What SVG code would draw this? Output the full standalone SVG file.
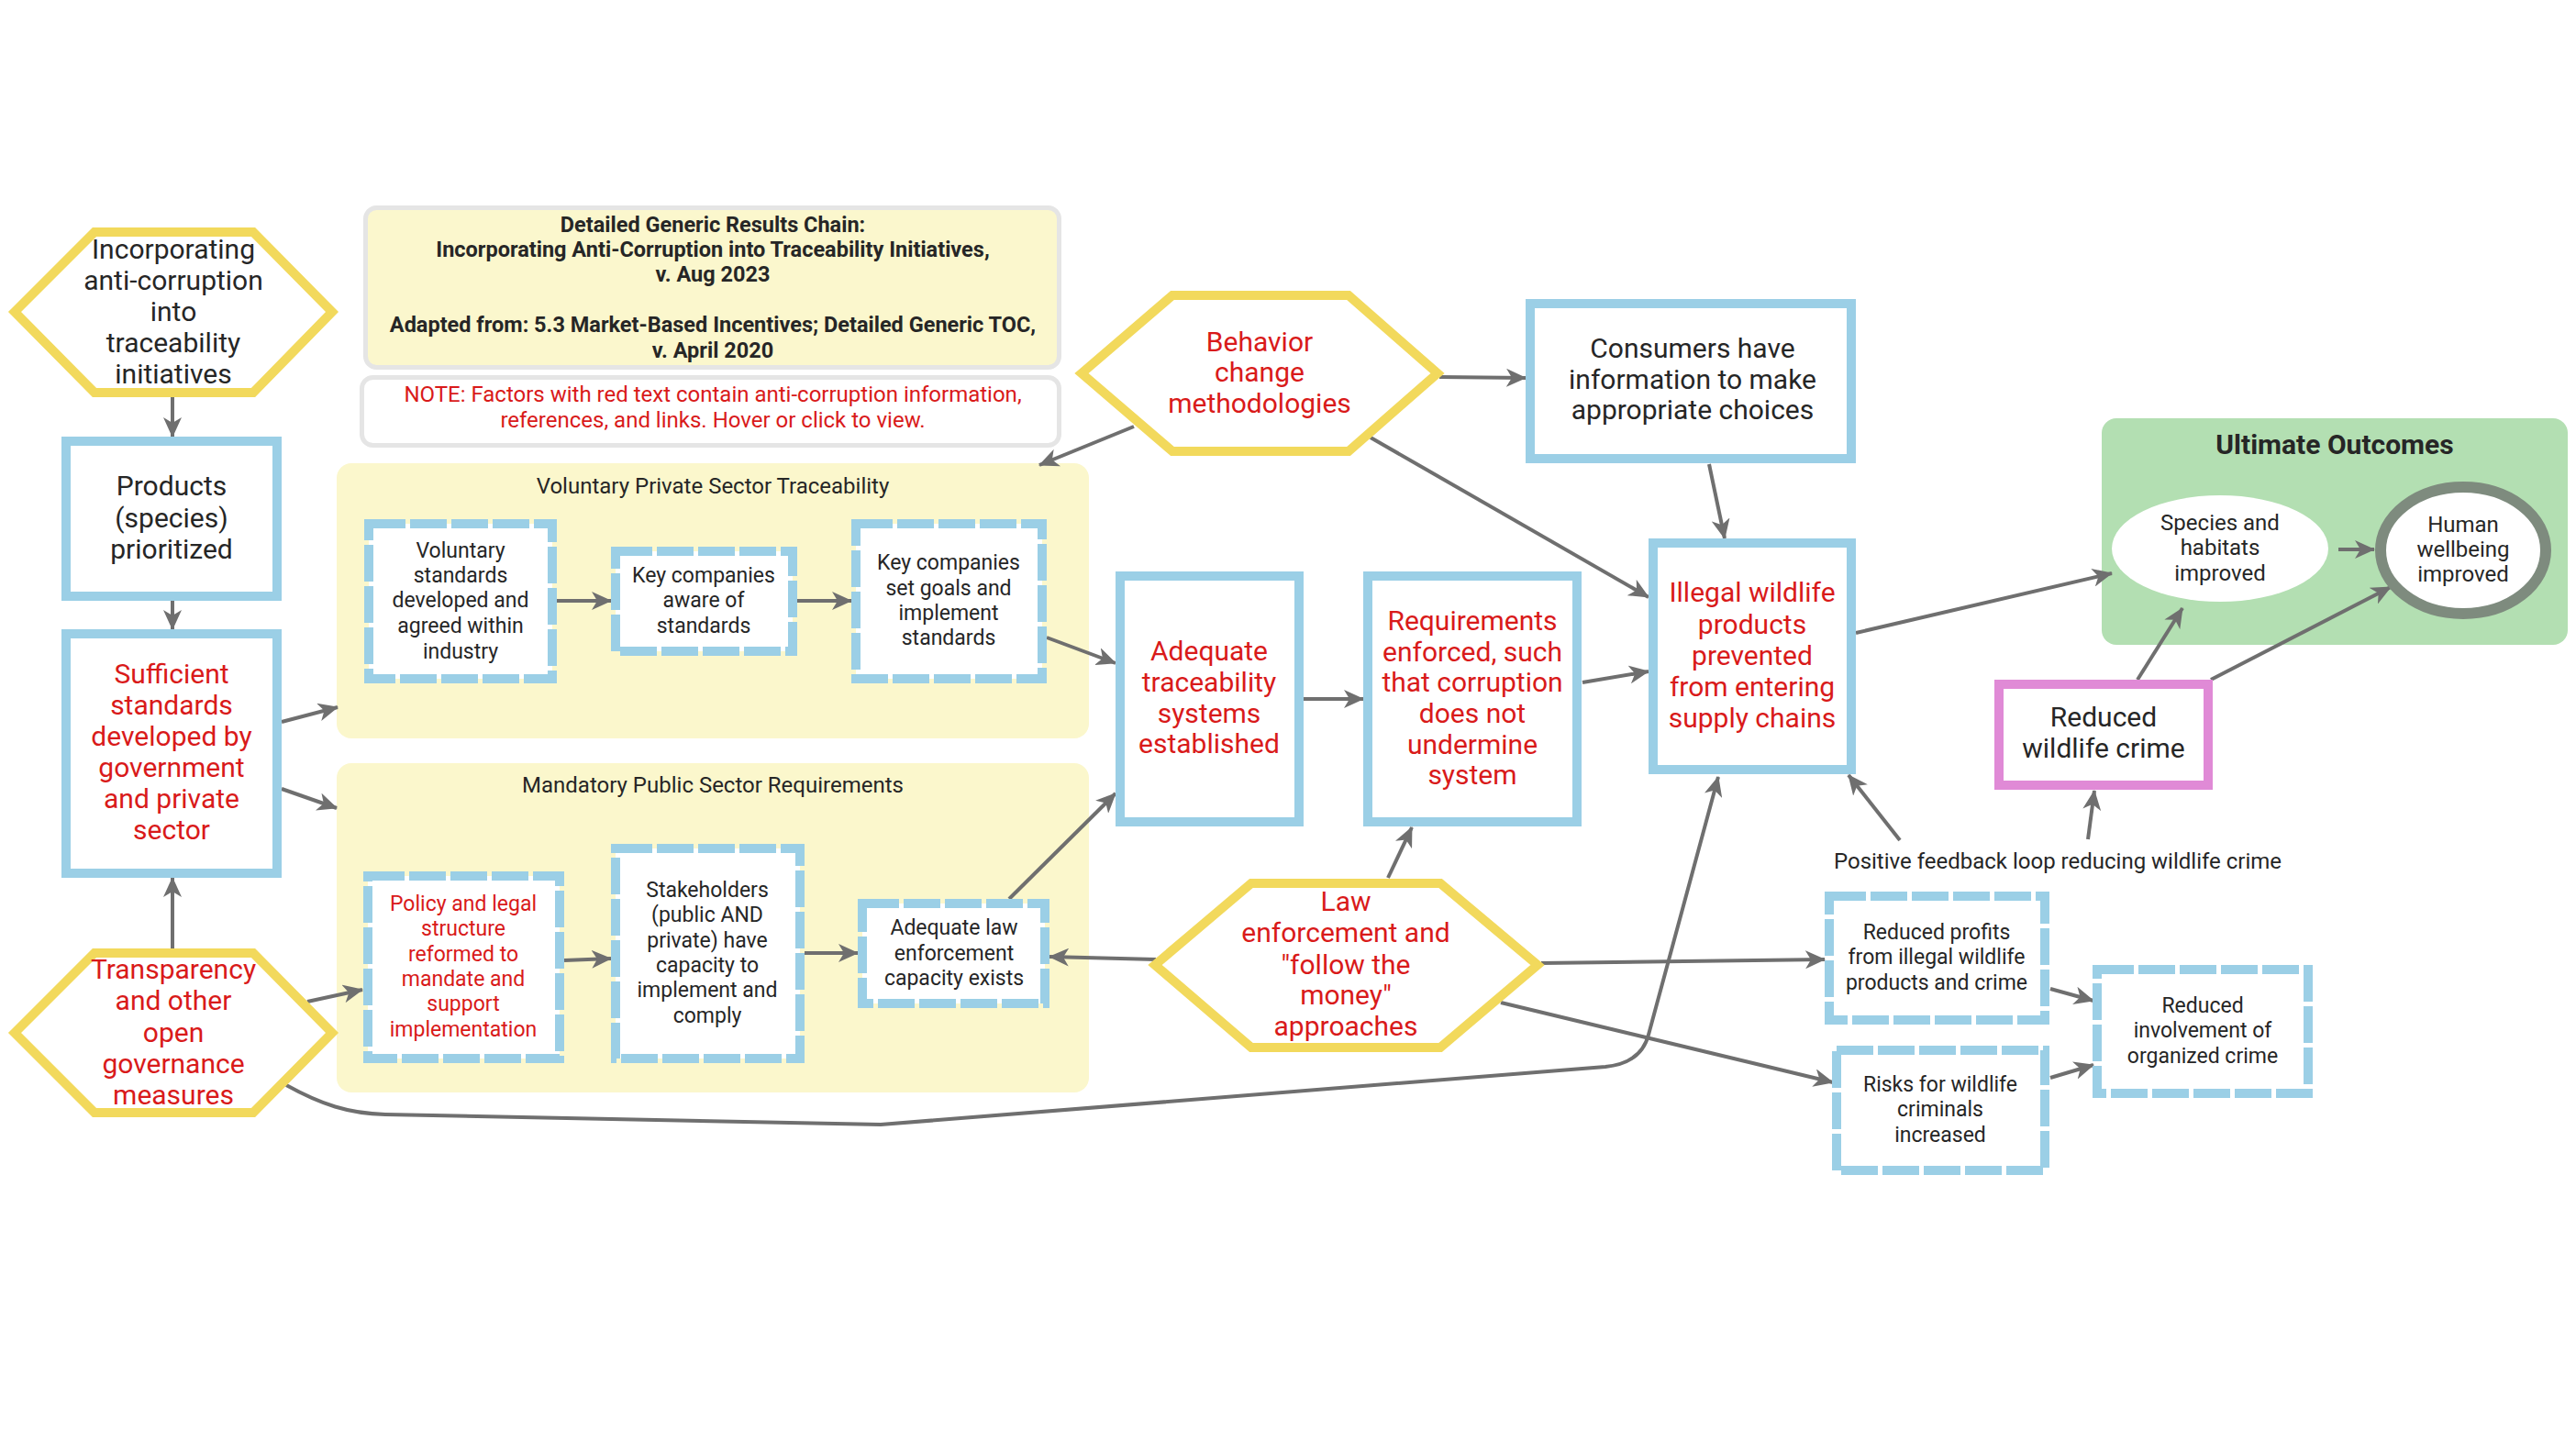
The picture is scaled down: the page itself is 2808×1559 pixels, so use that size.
<svg xmlns="http://www.w3.org/2000/svg" width="2808" height="1559" viewBox="0 0 2808 1559">
<defs>
<marker id="ah" markerUnits="userSpaceOnUse" markerWidth="22" markerHeight="20" refX="21" refY="10" orient="auto">
<path d="M0,0 L22,10 L0,20 L6,10 z" fill="#6f6f6f"/>
</marker>
<style>
text{font-family:Roboto,"Liberation Sans",sans-serif;text-anchor:middle;fill:#262626}
.big{font-size:30px}
.sm{font-size:23px}
.red{fill:#d91a1a}
.b{font-weight:bold}
.solid{fill:#fff;stroke:#9bcfe6;stroke-width:10}
.dash{fill:#fff;stroke:#9bcfe6;stroke-width:10;stroke-dasharray:40 5}
.hex{fill:#fff;stroke:#f2d95c;stroke-width:10;stroke-linejoin:miter}
.panel{fill:#fbf7cc}
.conn path,.conn line{stroke:#6f6f6f;stroke-width:4;fill:none;marker-end:url(#ah)}
</style>
</defs>
<rect x="0" y="0" width="2808" height="1559" fill="#fff"/>

<g id="title">
<rect x="398.5" y="226.5" width="756" height="174" rx="12" fill="#fbf7cd" stroke="#e5e5e5" stroke-width="5"/>
<text class="b" style="font-size:23.5px"><tspan x="777" y="253">Detailed Generic Results Chain:</tspan><tspan x="777" y="280">Incorporating Anti-Corruption into Traceability Initiatives,</tspan><tspan x="777" y="307">v. Aug 2023</tspan><tspan x="777" y="362">Adapted from: 5.3 Market-Based Incentives; Detailed Generic TOC,</tspan><tspan x="777" y="390">v. April 2020</tspan></text>
</g>
<g id="note">
<rect x="394.5" y="411.5" width="760" height="74" rx="12" fill="#fff" stroke="#e5e5e5" stroke-width="5"/>
<text class="red" style="font-size:24px"><tspan x="777" y="438">NOTE: Factors with red text contain anti-corruption information,</tspan><tspan x="777" y="466">references, and links. Hover or click to view.</tspan></text>
</g>

<g id="panel-voluntary">
<rect class="panel" x="367" y="505" width="820" height="300" rx="16"/>
<text style="font-size:24px" x="777" y="538">Voluntary Private Sector Traceability</text>
</g>
<g id="panel-mandatory">
<rect class="panel" x="367" y="832" width="820" height="359" rx="16"/>
<text style="font-size:24px" x="777" y="864">Mandatory Public Sector Requirements</text>
</g>
<g id="panel-ultimate">
<rect x="2291" y="456" width="508" height="247" rx="16" fill="#b3dfb2"/>
<text class="b" style="font-size:30px" x="2545" y="495">Ultimate Outcomes</text>
</g>

<g class="conn" id="connectors">
<line x1="188" y1="433" x2="188" y2="476"/>
<line x1="188" y1="655" x2="188" y2="686"/>
<line x1="188" y1="1034" x2="188" y2="957"/>
<line x1="307" y1="787" x2="368" y2="771"/>
<line x1="307" y1="860" x2="367" y2="881"/>
<line x1="335" y1="1092" x2="395" y2="1079"/>
<path d="M312,1183 C350,1204 380,1214 420,1215 L960,1226 L1750,1163 Q1789,1159 1797,1128 L1873,847"/>
<line x1="607" y1="655" x2="666" y2="655"/>
<line x1="869" y1="655" x2="928" y2="655"/>
<line x1="1141" y1="695" x2="1216" y2="723"/>
<line x1="615" y1="1047" x2="666" y2="1045"/>
<line x1="877" y1="1039" x2="935" y2="1039"/>
<line x1="1100" y1="980" x2="1216" y2="865"/>
<line x1="1260" y1="1046" x2="1144" y2="1043"/>
<line x1="1236" y1="465" x2="1133" y2="507"/>
<line x1="1569" y1="411" x2="1663" y2="412"/>
<line x1="1494" y1="477" x2="1797" y2="651"/>
<line x1="1863" y1="506" x2="1880" y2="587"/>
<line x1="1421" y1="762" x2="1486" y2="762"/>
<line x1="1725" y1="744" x2="1797" y2="732"/>
<line x1="1513" y1="957" x2="1539" y2="902"/>
<line x1="1680" y1="1050" x2="1989" y2="1046"/>
<line x1="1636" y1="1093" x2="1998" y2="1180"/>
<line x1="2023" y1="690" x2="2302" y2="625"/>
<line x1="2549" y1="599" x2="2588" y2="599"/>
<line x1="2330" y1="741" x2="2379" y2="663"/>
<line x1="2410" y1="741" x2="2606" y2="640"/>
<line x1="2276" y1="915" x2="2283" y2="862"/>
<line x1="2071" y1="916" x2="2015" y2="845"/>
<line x1="2235" y1="1078" x2="2282" y2="1091"/>
<line x1="2235" y1="1175" x2="2282" y2="1161"/>
</g>

<g id="n-incorporating">
<polygon class="hex" points="16,340 103,253 276,253 362,340 276,428 103,428"/>
<text class="big"><tspan x="189" y="282">Incorporating</tspan><tspan x="189" y="316">anti-corruption</tspan><tspan x="189" y="350">into</tspan><tspan x="189" y="384">traceability</tspan><tspan x="189" y="418">initiatives</tspan></text>
</g>
<g id="n-products">
<rect class="solid" x="72" y="481" width="230" height="169"/>
<text class="big"><tspan x="187" y="540">Products</tspan><tspan x="187" y="575">(species)</tspan><tspan x="187" y="609">prioritized</tspan></text>
</g>
<g id="n-sufficient">
<rect class="solid" x="72" y="691" width="230" height="261"/>
<text class="big red"><tspan x="187" y="745">Sufficient</tspan><tspan x="187" y="779">standards</tspan><tspan x="187" y="813">developed by</tspan><tspan x="187" y="847">government</tspan><tspan x="187" y="881">and private</tspan><tspan x="187" y="915">sector</tspan></text>
</g>
<g id="n-transparency">
<polygon class="hex" points="16,1126 103,1039 276,1039 362,1126 276,1213 103,1213"/>
<text class="big red"><tspan x="189" y="1067">Transparency</tspan><tspan x="189" y="1101">and other</tspan><tspan x="189" y="1136">open</tspan><tspan x="189" y="1170">governance</tspan><tspan x="189" y="1204">measures</tspan></text>
</g>

<g id="n-volstd">
<rect class="dash" x="402" y="571" width="200" height="169"/>
<text class="sm"><tspan x="502" y="608">Voluntary</tspan><tspan x="502" y="635">standards</tspan><tspan x="502" y="662">developed and</tspan><tspan x="502" y="690">agreed within</tspan><tspan x="502" y="718">industry</tspan></text>
</g>
<g id="n-keyaware">
<rect class="dash" x="671" y="601" width="193" height="109"/>
<text class="sm"><tspan x="767" y="635">Key companies</tspan><tspan x="767" y="662">aware of</tspan><tspan x="767" y="690">standards</tspan></text>
</g>
<g id="n-keyset">
<rect class="dash" x="933" y="571" width="203" height="169"/>
<text class="sm"><tspan x="1034" y="621">Key companies</tspan><tspan x="1034" y="649">set goals and</tspan><tspan x="1034" y="676">implement</tspan><tspan x="1034" y="703">standards</tspan></text>
</g>
<g id="n-policy">
<rect class="dash" x="401" y="955" width="209" height="199"/>
<text class="sm red"><tspan x="505" y="993">Policy and legal</tspan><tspan x="505" y="1020">structure</tspan><tspan x="505" y="1048">reformed to</tspan><tspan x="505" y="1075">mandate and</tspan><tspan x="505" y="1102">support</tspan><tspan x="505" y="1130">implementation</tspan></text>
</g>
<g id="n-stakeholders">
<rect class="dash" x="671" y="925" width="201" height="229"/>
<text class="sm"><tspan x="771" y="978">Stakeholders</tspan><tspan x="771" y="1005">(public AND</tspan><tspan x="771" y="1033">private) have</tspan><tspan x="771" y="1060">capacity to</tspan><tspan x="771" y="1087">implement and</tspan><tspan x="771" y="1115">comply</tspan></text>
</g>
<g id="n-adequatelaw">
<rect class="dash" x="940" y="985" width="199" height="109"/>
<text class="sm"><tspan x="1040" y="1019">Adequate law</tspan><tspan x="1040" y="1047">enforcement</tspan><tspan x="1040" y="1074">capacity exists</tspan></text>
</g>

<g id="n-behavior">
<polygon class="hex" points="1179,407 1278,322 1470,322 1567,407 1470,492 1278,492"/>
<text class="big red"><tspan x="1373" y="383">Behavior</tspan><tspan x="1373" y="416">change</tspan><tspan x="1373" y="450">methodologies</tspan></text>
</g>
<g id="n-consumers">
<rect class="solid" x="1668" y="331" width="350" height="169"/>
<text class="big"><tspan x="1845" y="390">Consumers have</tspan><tspan x="1845" y="424">information to make</tspan><tspan x="1845" y="457">appropriate choices</tspan></text>
</g>
<g id="n-adequatetrace">
<rect class="solid" x="1221" y="628" width="195" height="268"/>
<text class="big red"><tspan x="1318" y="720">Adequate</tspan><tspan x="1318" y="754">traceability</tspan><tspan x="1318" y="788">systems</tspan><tspan x="1318" y="821">established</tspan></text>
</g>
<g id="n-requirements">
<rect class="solid" x="1491" y="628" width="228" height="268"/>
<text class="big red"><tspan x="1605" y="687">Requirements</tspan><tspan x="1605" y="721">enforced, such</tspan><tspan x="1605" y="754">that corruption</tspan><tspan x="1605" y="788">does not</tspan><tspan x="1605" y="822">undermine</tspan><tspan x="1605" y="855">system</tspan></text>
</g>
<g id="n-illegal">
<rect class="solid" x="1802" y="592" width="216" height="247"/>
<text class="big red"><tspan x="1910" y="656">Illegal wildlife</tspan><tspan x="1910" y="691">products</tspan><tspan x="1910" y="725">prevented</tspan><tspan x="1910" y="759">from entering</tspan><tspan x="1910" y="793">supply chains</tspan></text>
</g>
<g id="n-law">
<polygon class="hex" points="1259,1052 1364,963 1570,963 1676,1052 1570,1142 1364,1142"/>
<text class="big red"><tspan x="1467" y="993">Law</tspan><tspan x="1467" y="1027">enforcement and</tspan><tspan x="1467" y="1062">"follow the</tspan><tspan x="1467" y="1095">money"</tspan><tspan x="1467" y="1129">approaches</tspan></text>
</g>

<g id="n-species">
<ellipse cx="2420" cy="598" rx="118" ry="58" fill="#fff"/>
<text style="font-size:24px"><tspan x="2420" y="578">Species and</tspan><tspan x="2420" y="605">habitats</tspan><tspan x="2420" y="633">improved</tspan></text>
</g>
<g id="n-human">
<ellipse cx="2685" cy="600" rx="90" ry="69" fill="#fff" stroke="#7e8b7e" stroke-width="12"/>
<text style="font-size:24px"><tspan x="2685" y="580">Human</tspan><tspan x="2685" y="607">wellbeing</tspan><tspan x="2685" y="634">improved</tspan></text>
</g>
<g id="n-reducedcrime">
<rect x="2179" y="746" width="228" height="110" fill="#fff" stroke="#e08ad6" stroke-width="10"/>
<text class="big"><tspan x="2293" y="792">Reduced</tspan><tspan x="2293" y="826">wildlife crime</tspan></text>
</g>
<g id="n-feedback">
<text style="font-size:24px" x="2243" y="947">Positive feedback loop reducing wildlife crime</text>
</g>
<g id="n-profits">
<rect class="dash" x="1994" y="977" width="235" height="135"/>
<text class="sm"><tspan x="2111" y="1024">Reduced profits</tspan><tspan x="2111" y="1051">from illegal wildlife</tspan><tspan x="2111" y="1079">products and crime</tspan></text>
</g>
<g id="n-risks">
<rect class="dash" x="2002" y="1145" width="227" height="131"/>
<text class="sm"><tspan x="2115" y="1190">Risks for wildlife</tspan><tspan x="2115" y="1217">criminals</tspan><tspan x="2115" y="1245">increased</tspan></text>
</g>
<g id="n-involvement">
<rect class="dash" x="2286" y="1057" width="230" height="135"/>
<text class="sm"><tspan x="2401" y="1104">Reduced</tspan><tspan x="2401" y="1131">involvement of</tspan><tspan x="2401" y="1159">organized crime</tspan></text>
</g>
</svg>
